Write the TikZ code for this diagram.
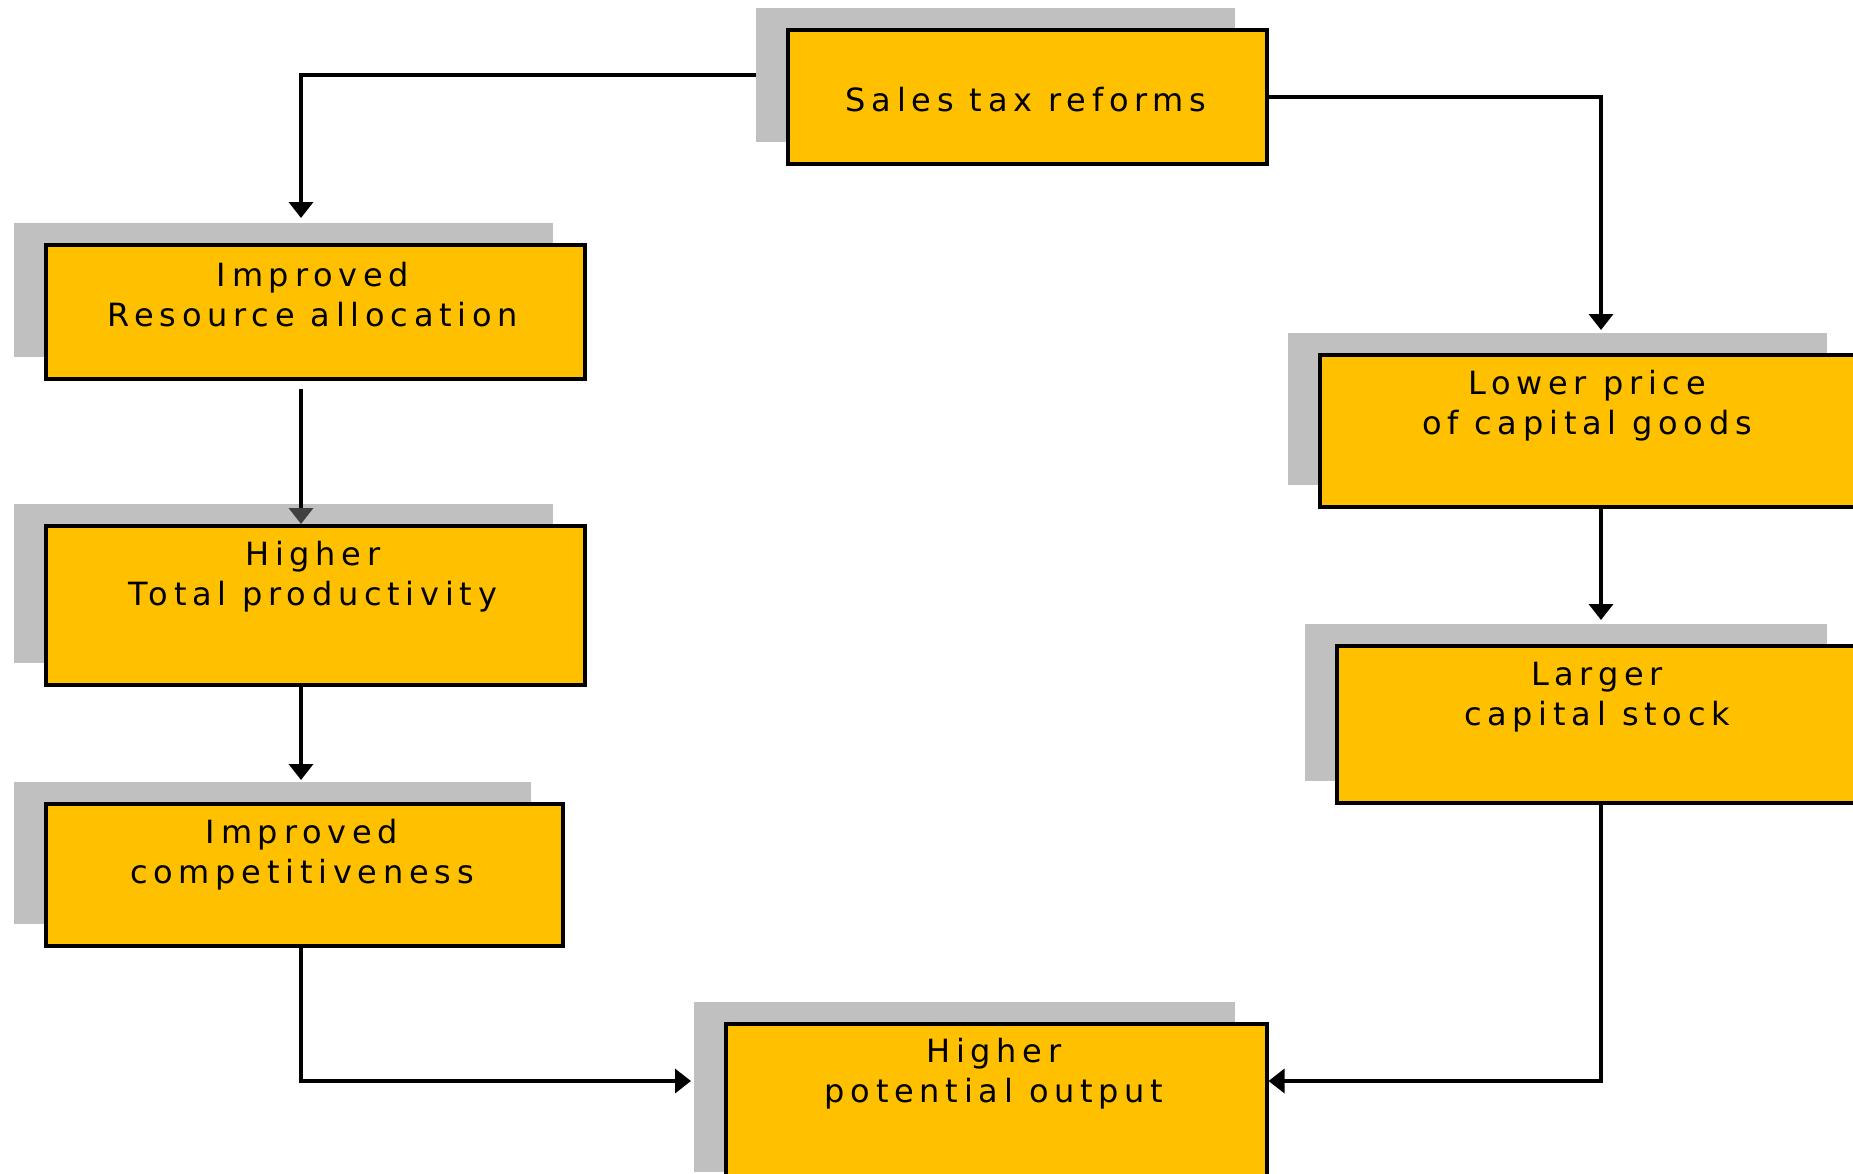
\documentclass[tikz,border=0pt]{standalone}
\usepackage{fontspec}
\setmainfont{DejaVu Sans}
\newfontfamily\boxfont[LetterSpace=18]{DejaVu Sans}
\usetikzlibrary{arrows.meta}
\definecolor{boxfill}{HTML}{FFC000}
\definecolor{shade}{HTML}{C0C0C0}
\definecolor{tipgray}{HTML}{404040}

% a box with its offset grey shadow: name, left, top, width, height
\newcommand\chartbox[5]{%
  \node[shadowbox, minimum width=#4pt, minimum height=#5pt, anchor=north west]
    (#1-sh) at (#2-30,#3-20) {};
  \node[mainbox, minimum width=#4pt, minimum height=#5pt, anchor=north west]
    (#1) at (#2,#3) {};
}

\begin{document}
\begin{tikzpicture}[x=1pt,y=-1pt,
  shadowbox/.style={fill=shade, draw=none, inner sep=0pt, outer sep=0pt},
  mainbox/.style={fill=boxfill, draw=black, line width=3.5pt, inner sep=0pt},
  boxtext/.style={font=\boxfont\fontsize{32}{40}\selectfont, align=center, inner sep=0pt},
  flow/.style={line width=3.5pt, -{Triangle[length=16pt,width=24pt]}},
  flowgray/.style={line width=3.5pt, -{Triangle[length=16pt,width=24pt,color=tipgray]}},
]
\useasboundingbox (0,0) rectangle (1853,1173);
\clip (0,0) rectangle (1853,1173);
\fill[white] (0,0) rectangle (1853,1173);

% boxes
\chartbox{stb}{786}{28}{479}{134}
\chartbox{ira}{44}{243}{539}{134}
\chartbox{htp}{44}{524}{539}{159}
\chartbox{icp}{44}{802}{517}{142}
\chartbox{lpc}{1318}{353}{539}{152}
\chartbox{lcs}{1335}{644}{522}{157}
\chartbox{hpo}{724}{1022}{541}{170}

% box texts
\node[boxtext] (stb-t) at (1026,100) {Sales tax reforms};
\node[boxtext] (ira-t) at (313,295) {Improved\\Resource allocation};
\node[boxtext] (htp-t) at (313,577) {Higher\\Total productivity};
\node[boxtext] (icp-t) at (302,855) {Improved\\competitiveness};
\node[boxtext] (lpc-t) at (1587,406) {Lower price\\of capital goods};
\node[boxtext] (lcs-t) at (1597,697) {Larger\\capital stock};
\node[boxtext] (hpo-t) at (994,1074) {Higher\\potential output};

% connector end points
\coordinate (a1) at (301,218);
\coordinate (a2) at (1601,330);
\coordinate (a3) at (301,389);
\coordinate (a4) at (301,780);
\coordinate (a5) at (691,1081);
\coordinate (a6) at (1601,620);

% connectors
\draw[flow] (stb-sh.west) -| (a1);
\draw[flow] (stb.east) -| (a2);
\draw[flowgray] (a3) -- (a3 |- htp.north);
\draw[flow] (htp.south -| a3) -- (a4);
\draw[flow] (icp.south -| a3) |- (a5);
\draw[flow] (lpc.south -| a2) -- (a6);
\draw[flow] (lcs.south -| a2) |- (hpo.east |- a5);
\end{tikzpicture}
\end{document}
